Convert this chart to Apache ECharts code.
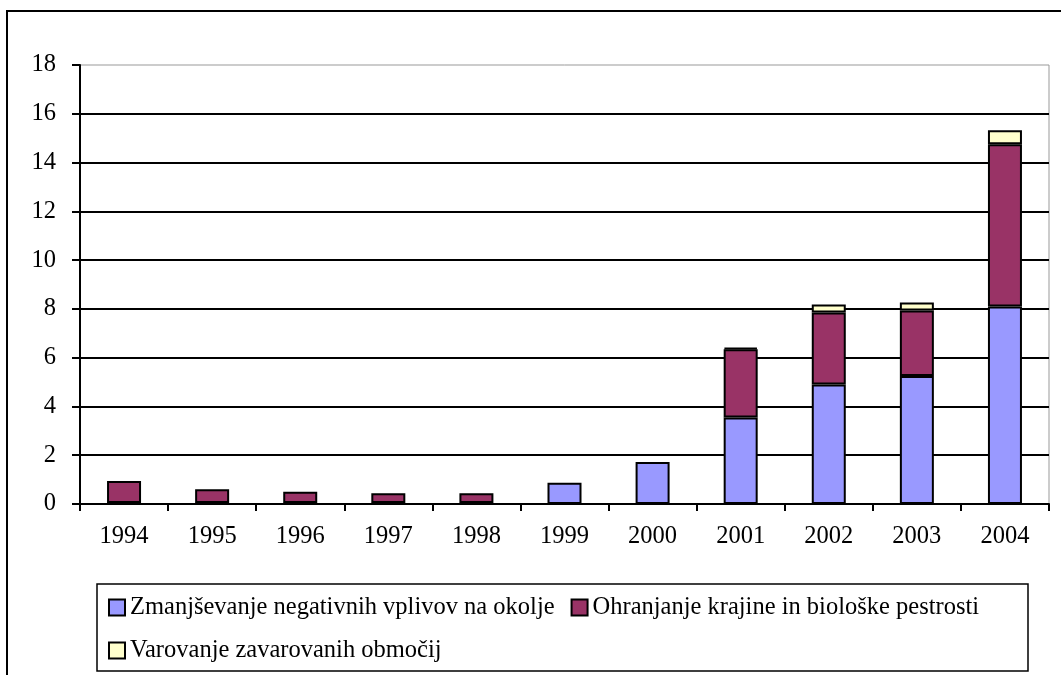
<!DOCTYPE html>
<html>
<head>
<meta charset="utf-8">
<title>chart</title>
<script src="https://cdn.jsdelivr.net/npm/echarts@6.0.0/dist/echarts.min.js"></script>
<style>
	html, body { margin: 0; padding: 0; background: #fff; }
	#chart { width: 1061px; height: 675px; }
</style>
</head>
<body>
<div id="chart"></div>
<script>
var years = ['1994', '1995', '1996', '1997', '1998', '1999', '2000', '2001', '2002', '2003', '2004'];
// null = no segment drawn for that year
var zmanjsevanje = [0.04, 0.04, 0.04, 0.04, 0.04, 0.87, 1.72, 3.55, 4.9, 5.25, 8.1];
var ohranjanje = [0.9, 0.56, 0.46, 0.4, 0.4, null, null, 2.8, 2.95, 2.68, 6.65];
var varovanje = [null, null, null, null, null, null, null, 0.06, 0.33, 0.33, 0.57];
var yTicks = [0, 2, 4, 6, 8, 10, 12, 14, 16, 18];

var seriesNames = [
	'Zmanjševanje negativnih vplivov na okolje',
	'Ohranjanje krajine in biološke pestrosti',
	'Varovanje zavarovanih območij'
];
var seriesColors = ['#9999FF', '#993366', '#FFFFCC'];

var fontFamily = '"Liberation Serif", "Times New Roman", serif';

function makeBar(idx, values) {
	return {
		name: seriesNames[idx],
		type: 'bar',
		stack: 'total',
		barWidth: 34,
		data: values,
		itemStyle: {
			color: seriesColors[idx],
			borderColor: '#000',
			borderWidth: 2
		},
		emphasis: { disabled: true }
	};
}

var chartDom = document.getElementById('chart');
var myChart = echarts.init(chartDom, null, { renderer: 'canvas' });

var option = {
	animation: false,
	backgroundColor: '#fff',
	textStyle: { fontFamily: fontFamily },
	graphic: [
		{
			type: 'rect',
			shape: { x: 7, y: 11, width: 1100, height: 700 },
			style: { fill: 'none', stroke: '#000', lineWidth: 2 },
			silent: true
		},
		{
			type: 'rect',
			shape: { x: 97, y: 584, width: 931, height: 87 },
			style: { fill: 'none', stroke: '#000', lineWidth: 1.5 },
			silent: true
		}
	],
	grid: {
		left: 80,
		right: 12,
		top: 65,
		bottom: 171,
		show: true,
		borderColor: '#999',
		borderWidth: 1,
		backgroundColor: '#fff'
	},
	legend: {
		left: 108,
		top: 594,
		width: 890,
		padding: 0,
		itemGap: 16,
		itemWidth: 16,
		itemHeight: 16,
		icon: 'rect',
		selectedMode: false,
		textStyle: {
			fontFamily: fontFamily,
			fontSize: 24.5,
			color: '#000',
			lineHeight: 27
		},
		data: seriesNames
	},
	xAxis: {
		type: 'category',
		data: years,
		axisLine: { lineStyle: { color: '#000', width: 2 } },
		axisTick: { show: true, inside: false, length: 7, lineStyle: { color: '#000', width: 2 } },
		axisLabel: { color: '#000', fontSize: 24.5, fontFamily: fontFamily, margin: 20, interval: 0 },
		splitLine: { show: false }
	},
	yAxis: {
		type: 'value',
		min: 0,
		max: 18,
		interval: 2,
		axisLine: { show: true, lineStyle: { color: '#000', width: 2 } },
		axisTick: { show: true, inside: false, length: 8, lineStyle: { color: '#000', width: 2 } },
		axisLabel: {
			color: '#000',
			fontSize: 24.5,
			fontFamily: fontFamily,
			margin: 24,
			formatter: function (value) {
				return yTicks.indexOf(value) >= 0 ? String(value) : '';
			}
		},
		splitLine: {
			show: true,
			showMaxLine: false,
			lineStyle: { color: '#000', width: 2 }
		}
	},
	series: [
		makeBar(0, zmanjsevanje),
		makeBar(1, ohranjanje),
		makeBar(2, varovanje)
	]
};

myChart.setOption(option);
</script>
</body>
</html>
